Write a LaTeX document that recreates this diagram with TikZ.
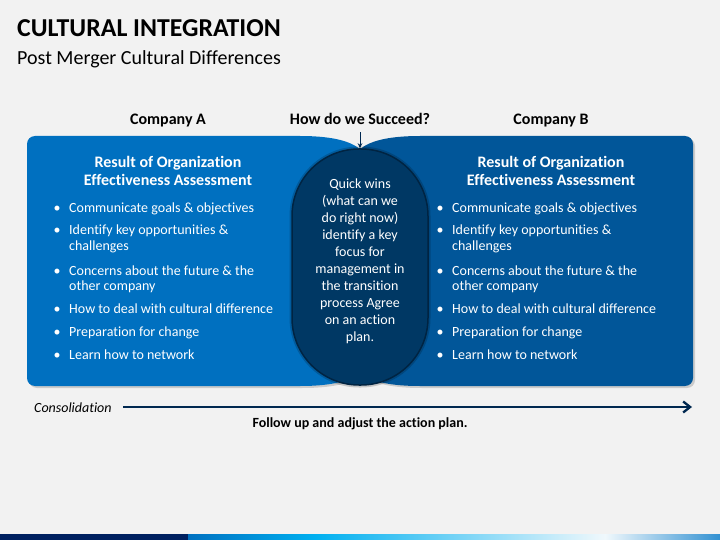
\documentclass[tikz,border=0pt]{standalone}
\usepackage{fontspec}
\setmainfont{Carlito}[Ligatures=NoCommon]
\usetikzlibrary{arrows.meta}
\definecolor{bg}{RGB}{242,242,242}
\definecolor{blueA}{RGB}{0,112,192}
\definecolor{blueB}{RGB}{1,86,153}
\definecolor{navyC}{RGB}{0,56,100}
\definecolor{navyEdge}{RGB}{0,36,66}
\definecolor{navyLine}{RGB}{0,40,80}
\definecolor{stripNavy}{RGB}{0,32,96}
\definecolor{stripBlue}{RGB}{0,112,192}
\definecolor{stripCyan}{RGB}{0,176,240}
\definecolor{stripLight}{RGB}{240,248,252}
\definecolor{stripEnd}{RGB}{50,145,210}
\tikzset{
  hd/.style={font=\fontsize{16}{19}\selectfont\bfseries, text=white, anchor=base, inner sep=0pt},
  bul/.style={font=\fontsize{14}{16.5}\selectfont, text=white, anchor=base west, inner sep=0pt},
  bdot/.style={font=\fontsize{14}{16.5}\selectfont, text=white, anchor=base, inner sep=0pt},
  lbl/.style={font=\fontsize{16}{19}\selectfont\bfseries, text=black, anchor=base, inner sep=0pt},
  midtext/.style={font=\fontsize{14}{17}\selectfont, text=white, align=center, inner sep=0pt},
  stadium/.style={draw=navyEdge, line width=1.5pt, fill=navyC, rounded corners=67pt,
    minimum width=136pt, minimum height=236pt, inner sep=0pt,
    preaction={draw=black, opacity=0.18, line width=5pt}},
  pshadow/.style={fill=black, opacity=0.16, shift={(2,2)}},
}
\begin{document}
\begin{tikzpicture}[x=1pt,y=-1pt]
\useasboundingbox (0,0) rectangle (720,540);
\fill[bg] (0,0) rectangle (720,540);

% title
\node[anchor=base west, inner sep=0pt, font=\fontsize{25.8}{30}\selectfont\bfseries] (title) at (17,36.7) {CULTURAL INTEGRATION};
\node[anchor=base west, inner sep=0pt, font=\fontsize{20}{24}\selectfont] (subtitle) at (17,64.5) {Post Merger Cultural Differences};

% column labels
\node[lbl] (compA) at (168,124.5) {Company A};
\node[lbl] (howq) at (360,124.5) {How do we Succeed?};
\node[lbl] (compB) at (551,124.5) {Company B};

% panel shadows
\fill[pshadow] (35,136) -- (300,136) .. controls (335,136) and (352,142) .. (361,150) -- (361,372) .. controls (352,380) and (335,386) .. (300,386) -- (35,386) .. controls (30.6,386) and (27,382.4) .. (27,378) -- (27,144) .. controls (27,139.6) and (30.6,136) .. (35,136) -- cycle;
\fill[pshadow] (685,136) -- (420,136) .. controls (385,136) and (368,142) .. (359,150) -- (359,372) .. controls (368,380) and (385,386) .. (420,386) -- (685,386) .. controls (689.4,386) and (693,382.4) .. (693,378) -- (693,144) .. controls (693,139.6) and (689.4,136) .. (685,136) -- cycle;

% panels
\fill[blueA] (35,136) -- (300,136) .. controls (335,136) and (352,142) .. (361,150) -- (361,372) .. controls (352,380) and (335,386) .. (300,386) -- (35,386) .. controls (30.6,386) and (27,382.4) .. (27,378) -- (27,144) .. controls (27,139.6) and (30.6,136) .. (35,136) -- cycle;
\fill[blueB] (685,136) -- (420,136) .. controls (385,136) and (368,142) .. (359,150) -- (359,372) .. controls (368,380) and (385,386) .. (420,386) -- (685,386) .. controls (689.4,386) and (693,382.4) .. (693,378) -- (693,144) .. controls (693,139.6) and (689.4,136) .. (685,136) -- cycle;

% centre stadium
\node[stadium] (mid) at (360,267) {};
\node[midtext] (midtxt) at (360,261.5) {Quick wins\\(what can we\\do right now)\\identify a key\\focus for\\management in\\the transition\\process Agree\\on an action\\plan.};

% arrow from question
\coordinate (qa) at (360,132.5);
\draw[navyLine, line width=1pt, -{Stealth[length=5pt,width=4.5pt]}] (qa) -- (mid.north);

% left panel text
\node[hd] (hA1) at (168,167.7) {Result of Organization};
\node[hd] (hA2) at (168,186) {Effectiveness Assessment};
\node[bdot] (dA1) at (57,212) {•};
\node[bul] (tA1) at (69,212) {Communicate goals \& objectives};
\node[bdot] (dA2) at (57,234.3) {•};
\node[bul] (tA2) at (69,234.3) {Identify key opportunities \&};
\node[bul] (tA2b) at (69,250.7) {challenges};
\node[bdot] (dA3) at (57,275) {•};
\node[bul] (tA3) at (69,275) {Concerns about the future \& the};
\node[bul] (tA3b) at (69,290.7) {other company};
\node[bdot] (dA4) at (57,313.3) {•};
\node[bul] (tA4) at (69,313.3) {How to deal with cultural difference};
\node[bdot] (dA5) at (57,336.2) {•};
\node[bul] (tA5) at (69,336.2) {Preparation for change};
\node[bdot] (dA6) at (57,359.3) {•};
\node[bul] (tA6) at (69,359.3) {Learn how to network};

% right panel text
\node[hd] (hB1) at (551,167.7) {Result of Organization};
\node[hd] (hB2) at (551,186) {Effectiveness Assessment};
\node[bdot] (dB1) at (440,212) {•};
\node[bul] (tB1) at (452,212) {Communicate goals \& objectives};
\node[bdot] (dB2) at (440,234.3) {•};
\node[bul] (tB2) at (452,234.3) {Identify key opportunities \&};
\node[bul] (tB2b) at (452,250.7) {challenges};
\node[bdot] (dB3) at (440,275) {•};
\node[bul] (tB3) at (452,275) {Concerns about the future \& the};
\node[bul] (tB3b) at (452,290.7) {other company};
\node[bdot] (dB4) at (440,313.3) {•};
\node[bul] (tB4) at (452,313.3) {How to deal with cultural difference};
\node[bdot] (dB5) at (440,336.2) {•};
\node[bul] (tB5) at (452,336.2) {Preparation for change};
\node[bdot] (dB6) at (440,359.3) {•};
\node[bul] (tB6) at (452,359.3) {Learn how to network};

% consolidation
\node[anchor=base west, inner sep=0pt, font=\fontsize{14}{16}\selectfont\itshape] (cons) at (34,412) {Consolidation};
\coordinate (cs) at (123,407);
\coordinate (ce) at (692,407);
\draw[navyLine, line width=2.3pt, -{Straight Barb[length=7pt,width=11pt,line width=2.3pt]}] (cs) -- (ce);
\node[anchor=base, inner sep=0pt, font=\fontsize{14}{17}\selectfont\bfseries] (follow) at (360,427) {Follow up and adjust the action plan.};

% bottom strip
\fill[stripNavy] (0,534) rectangle (188,540);
\shade[left color=stripBlue, right color=stripCyan] (188,534) rectangle (315,540);
\shade[left color=stripCyan, right color=stripLight] (315,534) rectangle (605,540);
\shade[left color=stripLight, right color=stripEnd] (605,534) rectangle (720,540);
\end{tikzpicture}
\end{document}
